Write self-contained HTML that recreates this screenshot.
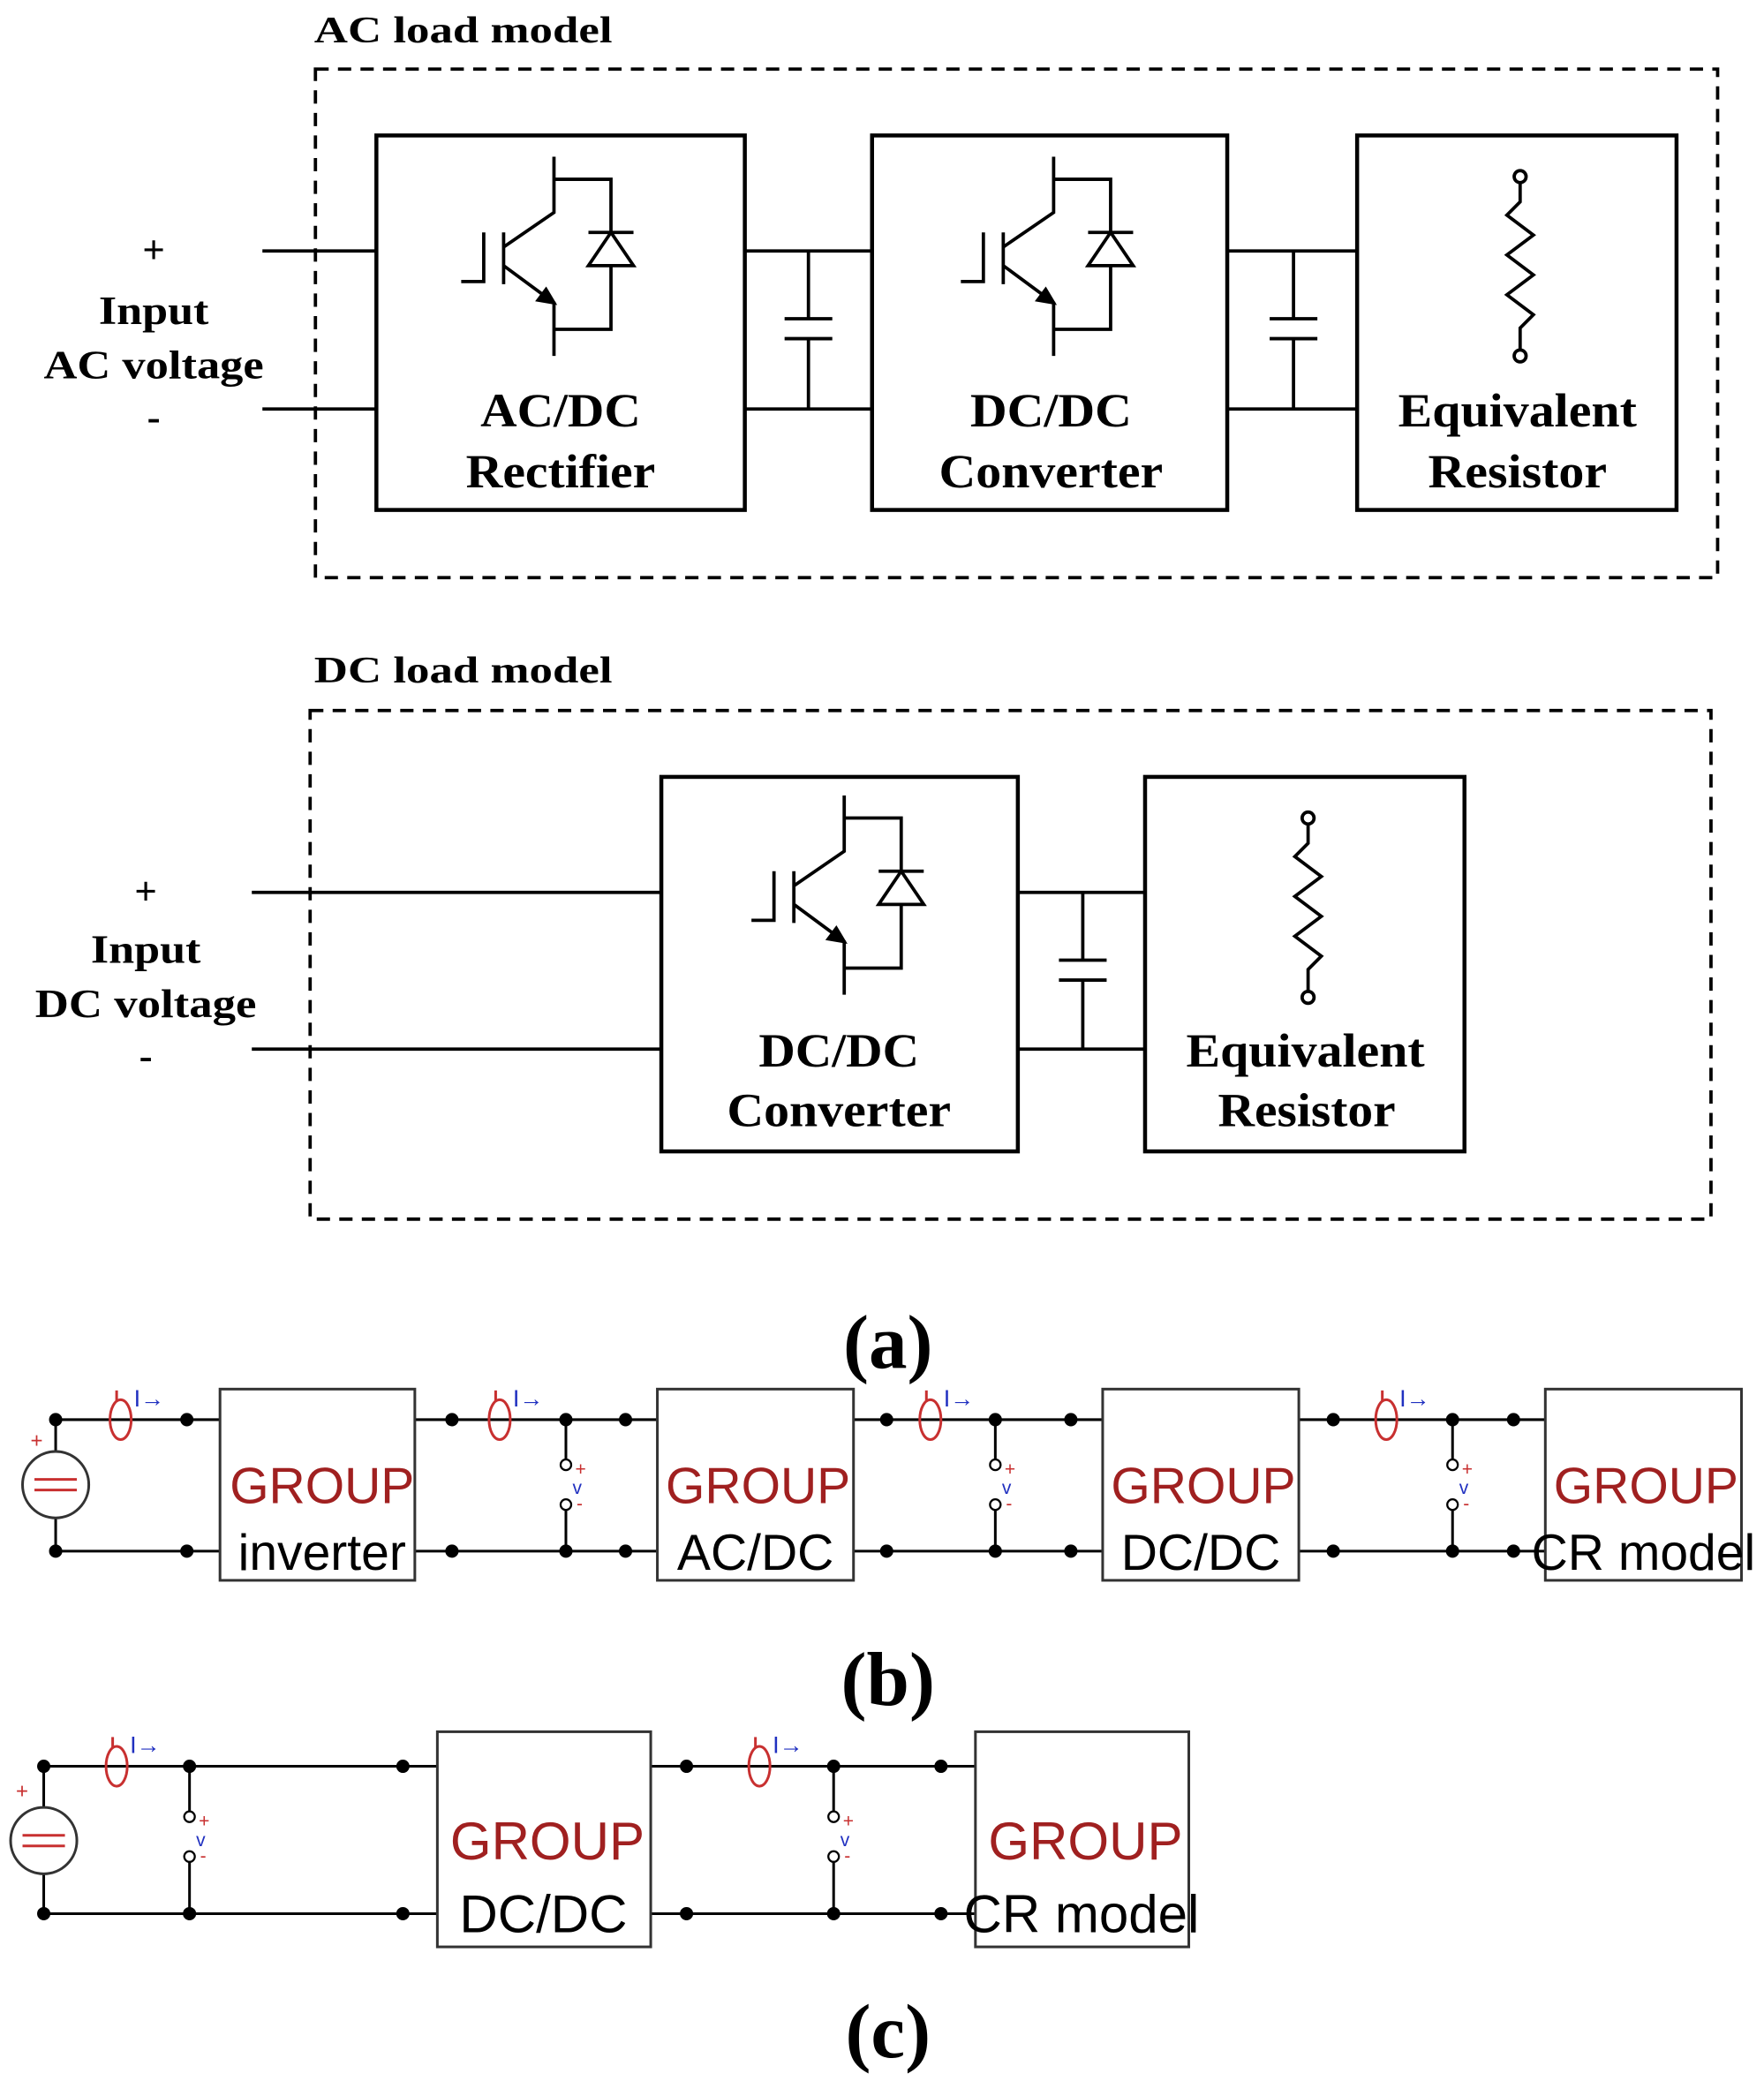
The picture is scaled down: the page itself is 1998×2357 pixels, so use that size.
<!DOCTYPE html>
<html><head><meta charset="utf-8"><style>
html,body{margin:0;padding:0;background:#fff;}
svg{display:block;}
.t{font-family:"Liberation Serif",serif;font-weight:bold;fill:#000;}
.a{font-family:"Liberation Sans",sans-serif;}
</style></head><body>
<svg width="1998" height="2357" viewBox="0 0 1331 1567" preserveAspectRatio="none" xmlns="http://www.w3.org/2000/svg">
<defs>
<g id="igbt" fill="none" stroke="#000" stroke-width="2.5">
  <polyline points="348,212 365,212 365,175"/>
  <line x1="380" y1="175" x2="380" y2="214"/>
  <polyline points="418,118 418,160 380,186"/>
  <polyline points="380,200 418,228 418,268"/>
  <polygon points="412,218 418,228 406,226" fill="#000"/>
  <polyline points="418,135 461,135 461,248 418,248"/>
  <polygon points="444,200 478,200 461,175" fill="#fff"/>
  <line x1="444" y1="175" x2="478" y2="175"/>
</g>
<g id="res" fill="none" stroke="#000" stroke-width="2.5">
  <circle cx="0" cy="133" r="4.5"/>
  <polyline points="0,137.5 0,152 -10,162 10,177 -10,192 10,207 -10,222 10,237 0,247 0,263.5"/>
  <circle cx="0" cy="268" r="4.5"/>
</g>
<g id="cap" stroke="#000" stroke-width="2.5">
  <line x1="0" y1="0" x2="0" y2="51"/>
  <line x1="-18" y1="51" x2="18" y2="51"/>
  <line x1="-18" y1="66" x2="18" y2="66"/>
  <line x1="0" y1="66" x2="0" y2="119"/>
</g>
<g id="ip">
  <ellipse cx="0" cy="0" rx="8" ry="15" fill="none" stroke="#c83030" stroke-width="2"/>
  <line x1="-3" y1="-14" x2="-3" y2="-22" stroke="#c83030" stroke-width="2"/>
  <text x="10" y="-10" class="a" font-size="18" fill="#2030c0">I→</text>
</g>
<g id="vp">
  <circle cx="0" cy="34" r="4" fill="#fff" stroke="#000" stroke-width="1.5"/>
  <circle cx="0" cy="64" r="4" fill="#fff" stroke="#000" stroke-width="1.5"/>
  <text x="7" y="42" class="a" font-size="14" fill="#c83030">+</text>
  <text x="5" y="56" class="a" font-size="14" fill="#2030c0">v</text>
  <text x="8" y="68" class="a" font-size="14" fill="#c83030">-</text>
</g>
</defs>

<!-- AC load model -->
<text x="237" y="32" class="t" font-size="28" textLength="225" lengthAdjust="spacingAndGlyphs">AC load model</text>
<rect x="238" y="52" width="1058" height="383" fill="none" stroke="#000" stroke-width="2.5" stroke-dasharray="10,7"/>
<g stroke="#000" stroke-width="2.5">
<line x1="198" y1="189" x2="284" y2="189"/><line x1="198" y1="308" x2="284" y2="308"/>
<line x1="562" y1="189" x2="658" y2="189"/><line x1="562" y1="308" x2="658" y2="308"/>
<line x1="926" y1="189" x2="1024" y2="189"/><line x1="926" y1="308" x2="1024" y2="308"/>
</g>
<rect x="284" y="102" width="278" height="282" fill="none" stroke="#000" stroke-width="3"/>
<rect x="658" y="102" width="268" height="282" fill="none" stroke="#000" stroke-width="3"/>
<rect x="1024" y="102" width="241" height="282" fill="none" stroke="#000" stroke-width="3"/>
<use href="#cap" x="610" y="189"/>
<use href="#cap" x="976" y="189"/>
<use href="#igbt"/>
<use href="#igbt" x="377"/>
<use href="#res" x="1147"/>
<g class="t" font-size="30" text-anchor="middle" lengthAdjust="spacingAndGlyphs">
<text x="116" y="198">+</text><text x="116" y="244" textLength="83" lengthAdjust="spacingAndGlyphs">Input</text><text x="116" y="285" textLength="166" lengthAdjust="spacingAndGlyphs">AC voltage</text><text x="116" y="324">-</text>
</g>
<g class="t" font-size="36" text-anchor="middle">
<text x="423" y="321" textLength="121" lengthAdjust="spacingAndGlyphs">AC/DC</text><text x="423" y="367" textLength="143" lengthAdjust="spacingAndGlyphs">Rectifier</text>
<text x="793" y="321" textLength="122" lengthAdjust="spacingAndGlyphs">DC/DC</text><text x="793" y="367" textLength="169" lengthAdjust="spacingAndGlyphs">Converter</text>
<text x="1145" y="321" textLength="180" lengthAdjust="spacingAndGlyphs">Equivalent</text><text x="1145" y="367" textLength="135" lengthAdjust="spacingAndGlyphs">Resistor</text>
</g>

<!-- DC load model -->
<text x="237" y="514" class="t" font-size="28" textLength="225" lengthAdjust="spacingAndGlyphs">DC load model</text>
<rect x="234" y="535" width="1057" height="383" fill="none" stroke="#000" stroke-width="2.5" stroke-dasharray="10,7"/>
<g stroke="#000" stroke-width="2.5">
<line x1="190" y1="672" x2="499" y2="672"/><line x1="190" y1="790" x2="499" y2="790"/>
<line x1="768" y1="672" x2="864" y2="672"/><line x1="768" y1="790" x2="864" y2="790"/>
</g>
<rect x="499" y="585" width="269" height="282" fill="none" stroke="#000" stroke-width="3"/>
<rect x="864" y="585" width="241" height="282" fill="none" stroke="#000" stroke-width="3"/>
<use href="#cap" x="817" y="672"/>
<use href="#igbt" x="219" y="481"/>
<use href="#res" x="987" y="483"/>
<g class="t" font-size="30" text-anchor="middle">
<text x="110" y="681">+</text><text x="110" y="725" textLength="83" lengthAdjust="spacingAndGlyphs">Input</text><text x="110" y="766" textLength="167" lengthAdjust="spacingAndGlyphs">DC voltage</text><text x="110" y="805">-</text>
</g>
<g class="t" font-size="36" text-anchor="middle">
<text x="633" y="803" textLength="121" lengthAdjust="spacingAndGlyphs">DC/DC</text><text x="633" y="848" textLength="169" lengthAdjust="spacingAndGlyphs">Converter</text>
<text x="985" y="803" textLength="180" lengthAdjust="spacingAndGlyphs">Equivalent</text><text x="986" y="848" textLength="134" lengthAdjust="spacingAndGlyphs">Resistor</text>
</g>
<text x="670" y="1030" class="t" font-size="58" text-anchor="middle">(a)</text>

<!-- (b) -->
<g stroke="#000" stroke-width="2">
<line x1="42" y1="1069" x2="1166" y2="1069"/>
<line x1="42" y1="1168" x2="1166" y2="1168"/>
<line x1="42" y1="1069" x2="42" y2="1093"/><line x1="42" y1="1143" x2="42" y2="1168"/>
<line x1="427" y1="1069" x2="427" y2="1099"/><line x1="427" y1="1137" x2="427" y2="1168"/>
<line x1="751" y1="1069" x2="751" y2="1099"/><line x1="751" y1="1137" x2="751" y2="1168"/>
<line x1="1096" y1="1069" x2="1096" y2="1099"/><line x1="1096" y1="1137" x2="1096" y2="1168"/>
</g>
<g fill="#fff" stroke="#333" stroke-width="2">
<rect x="166" y="1046" width="147" height="144"/><rect x="496" y="1046" width="148" height="144"/>
<rect x="832" y="1046" width="148" height="144"/><rect x="1166" y="1046" width="148" height="144"/>
</g>
<circle cx="42" cy="1118" r="25" fill="#fff" stroke="#333" stroke-width="2"/>
<line x1="26" y1="1114" x2="58" y2="1114" stroke="#c83030" stroke-width="2"/>
<line x1="26" y1="1122" x2="58" y2="1122" stroke="#c83030" stroke-width="2"/>
<text x="23" y="1090" class="a" font-size="16" fill="#c83030">+</text>
<g fill="#000">
<circle cx="42" cy="1069" r="5"/><circle cx="141" cy="1069" r="5"/><circle cx="42" cy="1168" r="5"/><circle cx="141" cy="1168" r="5"/>
<circle cx="341" cy="1069" r="5"/><circle cx="427" cy="1069" r="5"/><circle cx="472" cy="1069" r="5"/>
<circle cx="341" cy="1168" r="5"/><circle cx="427" cy="1168" r="5"/><circle cx="472" cy="1168" r="5"/>
<circle cx="669" cy="1069" r="5"/><circle cx="751" cy="1069" r="5"/><circle cx="808" cy="1069" r="5"/>
<circle cx="669" cy="1168" r="5"/><circle cx="751" cy="1168" r="5"/><circle cx="808" cy="1168" r="5"/>
<circle cx="1006" cy="1069" r="5"/><circle cx="1096" cy="1069" r="5"/><circle cx="1142" cy="1069" r="5"/>
<circle cx="1006" cy="1168" r="5"/><circle cx="1096" cy="1168" r="5"/><circle cx="1142" cy="1168" r="5"/>
</g>
<use href="#ip" x="91" y="1069"/><use href="#ip" x="377" y="1069"/><use href="#ip" x="702" y="1069"/><use href="#ip" x="1046" y="1069"/>
<use href="#vp" x="427" y="1069"/><use href="#vp" x="751" y="1069"/><use href="#vp" x="1096" y="1069"/>
<g class="a" font-size="38" text-anchor="middle">
<text x="243" y="1132" fill="#a02020">GROUP</text><text x="243" y="1182">inverter</text>
<text x="572" y="1132" fill="#a02020">GROUP</text><text x="570" y="1182">AC/DC</text>
<text x="908" y="1132" fill="#a02020">GROUP</text><text x="906" y="1182">DC/DC</text>
<text x="1242" y="1132" fill="#a02020">GROUP</text><text x="1240" y="1182">CR model</text>
</g>
<text x="670" y="1284" class="t" font-size="58" text-anchor="middle">(b)</text>

<!-- (c) -->
<g stroke="#000" stroke-width="2">
<line x1="33" y1="1330" x2="736" y2="1330"/>
<line x1="33" y1="1441" x2="736" y2="1441"/>
<line x1="33" y1="1330" x2="33" y2="1361"/><line x1="33" y1="1411" x2="33" y2="1441"/>
<line x1="143" y1="1330" x2="143" y2="1364"/><line x1="143" y1="1402" x2="143" y2="1441"/>
<line x1="629" y1="1330" x2="629" y2="1364"/><line x1="629" y1="1402" x2="629" y2="1441"/>
</g>
<g fill="#fff" stroke="#333" stroke-width="2">
<rect x="330" y="1304" width="161" height="162"/><rect x="736" y="1304" width="161" height="162"/>
</g>
<circle cx="33" cy="1386" r="25" fill="#fff" stroke="#333" stroke-width="2"/>
<line x1="17" y1="1382" x2="49" y2="1382" stroke="#c83030" stroke-width="2"/>
<line x1="17" y1="1390" x2="49" y2="1390" stroke="#c83030" stroke-width="2"/>
<text x="12" y="1354" class="a" font-size="16" fill="#c83030">+</text>
<g fill="#000">
<circle cx="33" cy="1330" r="5"/><circle cx="143" cy="1330" r="5"/><circle cx="304" cy="1330" r="5"/>
<circle cx="33" cy="1441" r="5"/><circle cx="143" cy="1441" r="5"/><circle cx="304" cy="1441" r="5"/>
<circle cx="518" cy="1330" r="5"/><circle cx="629" cy="1330" r="5"/><circle cx="710" cy="1330" r="5"/>
<circle cx="518" cy="1441" r="5"/><circle cx="629" cy="1441" r="5"/><circle cx="710" cy="1441" r="5"/>
</g>
<use href="#ip" x="88" y="1330"/><use href="#ip" x="573" y="1330"/>
<use href="#vp" x="143" y="1334"/><use href="#vp" x="629" y="1334"/>
<g class="a" font-size="40" text-anchor="middle">
<text x="413" y="1400" fill="#a02020">GROUP</text><text x="410" y="1455">DC/DC</text>
<text x="819" y="1400" fill="#a02020">GROUP</text><text x="816" y="1455">CR model</text>
</g>
<text x="670" y="1549" class="t" font-size="58" text-anchor="middle">(c)</text>
</svg>
</body></html>
